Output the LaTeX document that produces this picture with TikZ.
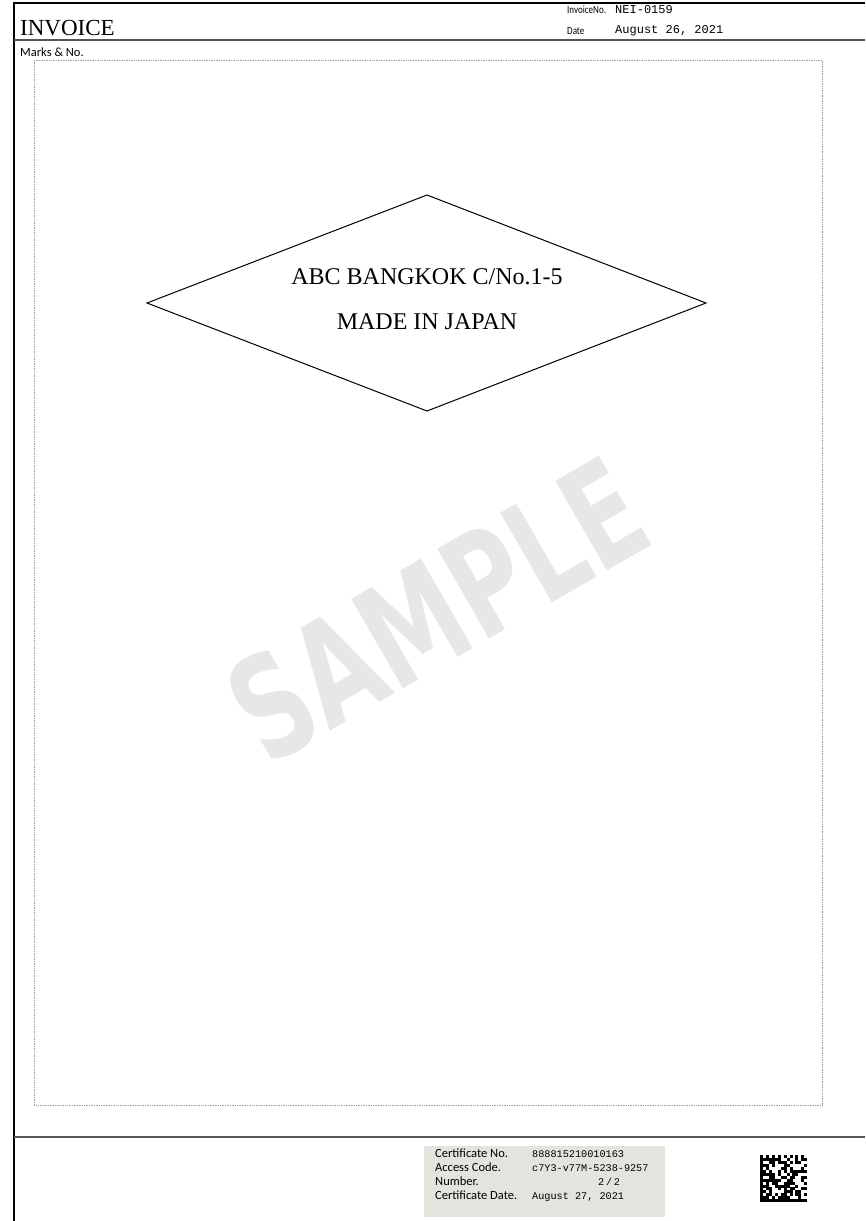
\documentclass[tikz,border=0pt]{standalone}
\usepackage{fontspec}
\usepackage{graphicx}
\setmainfont{Liberation Serif}
\newfontfamily\carl{Carlito}
\newfontfamily\monof{Liberation Mono}
\newfontfamily\heavyf{DejaVu Sans}
\definecolor{wm}{HTML}{E6E7E9}
\definecolor{certbg}{HTML}{E4E4DF}
\definecolor{rulegray}{HTML}{555555}
\tikzset{
  frameline/.style={line width=2.6pt, black},
  sepline/.style={line width=1.8pt, rulegray},
  dotbox/.style={line width=0.9pt, gray!75, dash pattern=on 1pt off 0.7pt},
  lbl/.style={anchor=base west, inner sep=0pt},
  smalllbl/.style={lbl, font=\carl\fontsize{11}{12}\selectfont},
  monolbl/.style={lbl, font=\monof\fontsize{12}{13}\selectfont},
  certlbl/.style={lbl, font=\carl\fontsize{12.5}{13}\selectfont},
  certval/.style={lbl, font=\monof\fontsize{10.2}{11}\selectfont},
  marktext/.style={inner sep=0pt, font=\fontsize{24}{26}\selectfont},
}
\begin{document}
\begin{tikzpicture}[x=1pt,y=-1pt]
\useasboundingbox (0,0) rectangle (865,1221);
% frame
\coordinate (tl) at (14,3);
\coordinate (tr) at (865,3);
\coordinate (bl) at (14,1221);
\draw[frameline] (tr) -- (tl) -- (bl);
% header separator
\coordinate (h1) at (14,40);
\coordinate (h2) at (865,40);
\draw[sepline] (h1) -- (h2);
% header texts
\node[lbl, font=\fontsize{23}{24}\selectfont] (title) at (20,35) {INVOICE};
\node[smalllbl] (invno) at (567,13) {\scalebox{0.82}[1]{InvoiceNo.}};
\node[smalllbl] (datel) at (567,34) {\scalebox{0.82}[1]{Date}};
\node[monolbl] (invnov) at (615,13) {NEI-0159};
\node[monolbl] (datev) at (615,33) {August 26, 2021};
\node[lbl, font=\carl\fontsize{12.5}{13}\selectfont] (marks) at (20,56) {Marks \& No.};
% dotted box
\coordinate (d1) at (34,60);
\coordinate (d2) at (822,1105);
\draw[dotbox] (d1) rectangle (d2);
% diamond
\coordinate (dt) at (427,195);
\coordinate (dr) at (706,303);
\coordinate (db) at (427,411);
\coordinate (dl) at (147,303);
\draw[line width=1pt] (dt) -- (dr) -- (db) -- (dl) -- cycle;
\node[marktext] (m1) at (427,277) {ABC BANGKOK C/No.1-5};
\node[marktext] (m2) at (427,322) {MADE IN JAPAN};
% watermark
\node[rotate=30, inner sep=0pt, text=wm, font=\heavyf\bfseries\fontsize{142}{142}\selectfont] (wmark) at (437,610) {\scalebox{0.7}[1]{SAMPLE}};
% footer separator
\coordinate (f1) at (14,1137);
\coordinate (f2) at (865,1137);
\draw[sepline] (f1) -- (f2);
% certificate box
\node[fill=certbg, minimum width=241pt, minimum height=71pt, inner sep=0pt, anchor=north west] (cert) at (424,1146) {};
\node[certlbl] (c1) at (435,1157) {Certificate No.};
\node[certlbl] (c2) at (435,1171) {Access Code.};
\node[certlbl] (c3) at (435,1185) {Number.};
\node[certlbl] (c4) at (435,1199) {Certificate Date.};
\node[certval] (v1) at (532,1157) {888815210010163};
\node[certval] (v2) at (532,1171) {c7Y3-v77M-5238-9257};
\node[certval] (v3) at (598,1185) {2\,/\,2};
\node[certval] (v4) at (532,1199) {August 27, 2021};
% 2D code
\pgfmathsetseed{17}
\foreach \i in {0,...,15}{
  \foreach \j in {0,...,15}{
    \pgfmathsetmacro\r{rnd}
    \pgfmathtruncatemacro\flag{((\i==0) || (\j==15) || ((\j==0) && (mod(\i,2)==0)) || ((\i==15) && (mod(\j,2)==1)) || ((\i>0) && (\i<15) && (\j>0) && (\j<15) && (\r<0.6))) ? 1 : 0}
    \ifnum\flag=1
      \fill (760+\i*2.95,1155+\j*2.95) rectangle ++(3.0,3.0);
    \fi
  }
}
\end{tikzpicture}
\end{document}
